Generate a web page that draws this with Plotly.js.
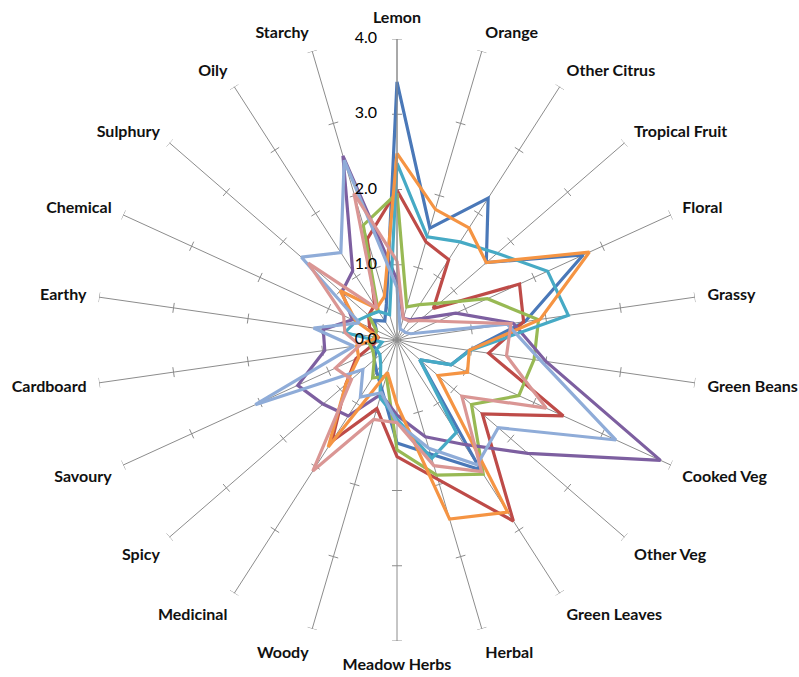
<!DOCTYPE html>
<html>
<head>
<meta charset="utf-8">
<script src="https://cdn.plot.ly/plotly-3.0.1.min.js"></script>
<style>html,body{margin:0;padding:0;background:#fff;}#chart{width:799px;height:677px;}</style>
</head>
<body>
<div id="chart"></div>
<script>
const categories = ['Lemon','Orange','Other Citrus','Tropical Fruit','Floral','Grassy','Green Beans','Cooked Veg','Other Veg','Green Leaves','Herbal','Meadow Herbs','Woody','Medicinal','Spicy','Savoury','Cardboard','Earthy','Chemical','Sulphury','Oily','Starchy'];
const radialTicks = [0, 1, 2, 3, 4];
const radialTickText = ['0.0', '1.0', '2.0', '3.0', '4.0'];

const seriesDarkBlue  = [3.43,1.55,2.24,1.57,2.72,1.72,0.97,0.79,0.40,2.05,1.58,1.37,0.70,0.50,0.40,0.30,0.35,0.30,0.30,0.40,0.30,0.50];
const seriesRed       = [1.99,1.36,1.27,0.64,1.79,1.70,1.23,2.43,1.50,2.86,1.93,1.55,0.95,1.60,0.90,0.60,0.30,0.25,0.40,0.50,0.55,1.40];
const seriesGreen     = [1.95,0.46,0.56,0.75,1.32,1.90,1.84,1.78,1.31,2.12,1.87,1.46,0.50,0.60,0.40,0.35,0.37,0.30,0.30,0.50,0.46,1.59];
const seriesPurple    = [0.80,0.30,0.32,0.44,0.86,1.56,2.00,3.85,2.30,1.65,1.34,1.00,0.75,1.20,1.30,1.45,0.97,0.99,0.65,0.97,1.09,2.55];
const seriesTeal      = [2.35,1.43,1.55,1.76,2.20,2.30,0.98,0.79,0.40,1.46,1.64,1.05,0.80,0.40,0.30,0.30,0.20,0.70,0.60,0.50,0.45,0.35];
const seriesOrange    = [2.48,1.81,1.77,1.57,2.81,1.92,0.97,1.03,0.72,2.72,2.48,0.86,0.45,1.69,0.90,0.56,0.54,0.25,0.60,1.00,0.50,0.60];
const seriesLightBlue = [0.70,0.15,0.15,0.15,0.20,1.48,1.93,3.20,1.78,1.97,1.50,1.10,0.73,0.90,0.60,2.07,0.58,1.12,0.55,1.68,1.38,2.49];
const seriesPink      = [1.05,0.30,0.30,0.40,0.60,1.53,1.47,2.18,1.14,2.08,1.74,1.10,1.10,2.07,0.80,0.90,0.50,0.70,0.78,1.56,0.50,2.03];

const N = categories.length;
const step = 360 / N;
const angles = categories.map((c, i) => i * step);

const series = [
  {name: 'Series 1', vals: seriesDarkBlue,  color: '#4A78B8'},
  {name: 'Series 2', vals: seriesRed,       color: '#BE4B48'},
  {name: 'Series 3', vals: seriesGreen,     color: '#98B954'},
  {name: 'Series 4', vals: seriesPurple,    color: '#7D5FA0'},
  {name: 'Series 5', vals: seriesTeal,      color: '#46AAC5'},
  {name: 'Series 6', vals: seriesOrange,    color: '#F59443'},
  {name: 'Series 7', vals: seriesLightBlue, color: '#8FACD8'},
  {name: 'Series 8', vals: seriesPink,      color: '#DA9694'}
];

// tick marks across every spoke at each major radial value
const pxPerUnit = 301 / 4;
const tickR = [], tickT = [];
angles.forEach(a => {
  radialTicks.slice(1).forEach(t => {
    const d = Math.atan(5 / (t * pxPerUnit));
    const dDeg = d * 180 / Math.PI;
    const rr = t / Math.cos(d);
    tickR.push(rr, rr, null);
    tickT.push(a - dDeg, a + dDeg, null);
  });
});

const traces = [{
  type: 'scatterpolar', mode: 'lines', r: tickR, theta: tickT,
  line: {color: '#8c8c8c', width: 1}, hoverinfo: 'skip', showlegend: false, connectgaps: false
}];

series.forEach(s => {
  traces.push({
    type: 'scatterpolar', mode: 'lines', name: s.name,
    r: s.vals.concat([s.vals[0]]),
    theta: angles.concat([angles[0]]),
    line: {color: s.color, width: 3.2}, showlegend: false
  });
});

// radial value labels, placed on the Lemon spoke, left of it
traces.push({
  type: 'scatterpolar', mode: 'text',
  r: radialTicks, theta: radialTicks.map(() => angles[0]),
  text: radialTickText.map(t => t + '\u2003\u2002'),
  textposition: 'middle left',
  textfont: {family: 'Lato, Open Sans, sans-serif', size: 16, color: '#000'},
  hoverinfo: 'skip', showlegend: false, cliponaxis: false
});

const layout = {
  width: 799, height: 677,
  margin: {l: 96, r: 101, t: 39, b: 36},
  paper_bgcolor: '#fff',
  showlegend: false,
  polar: {
    bgcolor: '#fff',
    domain: {x: [0, 1], y: [0, 1]},
    radialaxis: {
      range: [0, 4], tickmode: 'array', tickvals: radialTicks,
      showgrid: false, showline: true, linecolor: '#8c8c8c', linewidth: 1,
      ticks: '', angle: 90, showticklabels: false
    },
    angularaxis: {
      type: 'linear', tickmode: 'array', tickvals: angles, ticktext: categories,
      direction: 'clockwise', rotation: 90,
      showgrid: true, gridcolor: '#8c8c8c', gridwidth: 1,
      showline: false, ticks: 'outside', ticklen: 9, tickcolor: 'rgba(0,0,0,0)',
      tickfont: {family: 'Lato, Open Sans, sans-serif', size: 16, color: '#111', weight: 'bold'}
    }
  }
};

Plotly.newPlot('chart', traces, layout, {displayModeBar: false, staticPlot: true});
</script>
</body>
</html>
